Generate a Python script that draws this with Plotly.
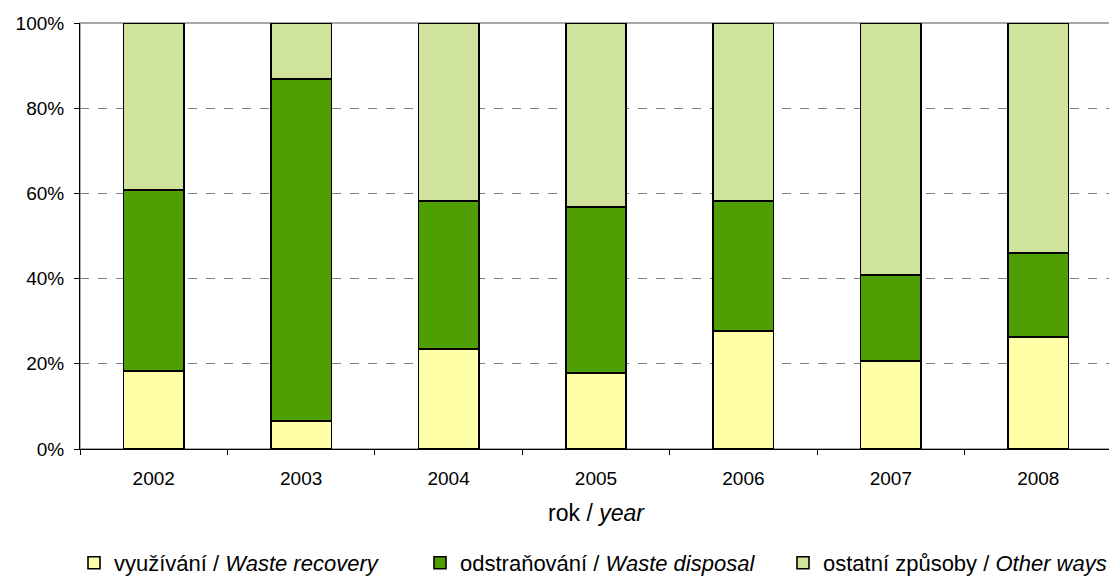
import plotly.graph_objects as go

years = ["2002", "2003", "2004", "2005", "2006", "2007", "2008"]
recovery = [18.3, 6.6, 23.5, 17.8, 27.7, 20.7, 26.3]
disposal = [42.5, 80.3, 34.7, 39.0, 30.5, 20.1, 19.7]
other = [39.2, 13.1, 41.8, 43.2, 41.8, 59.2, 54.0]

names = [
    "využívání / <i>Waste recovery</i>",
    "odstraňování / <i>Waste disposal</i>",
    "ostatní způsoby / <i>Other ways</i>",
]
colors = ["#FFFFA8", "#4E9E04", "#D0E39C"]
legend_ids = ["legend", "legend2", "legend3"]
legend_x = [66, 412, 775]  # left edge of each legend box, px

fig = go.Figure()
for vals, name, col, lg in zip([recovery, disposal, other], names, colors, legend_ids):
    fig.add_trace(go.Bar(
        x=years, y=vals, name=name, legend=lg,
        marker=dict(color=col, line=dict(color="black", width=1.6)),
    ))

# plot area border (grey, top and right)
fig.add_shape(type="rect", xref="paper", yref="paper", x0=0, x1=1, y0=0, y1=1,
              line=dict(color="#8C8C8C", width=1.5), layer="between")

# page body has an 8px margin, so the figure is a bit smaller than the window
W, H = 1109, 569
LEG_TOP = 534  # px from top of figure
legend_common = dict(xref="container", yref="container", orientation="h",
                     xanchor="left", yanchor="top", y=1 - LEG_TOP / H,
                     bgcolor="rgba(0,0,0,0)", font=dict(size=22), itemclick=False)

fig.update_layout(
    width=W, height=H,
    barmode="stack", barnorm="percent", bargap=0.59,
    plot_bgcolor="white", paper_bgcolor="white",
    margin=dict(l=72, r=5, t=15, b=128),
    font=dict(family="Liberation Sans, Arial", size=19, color="black"),
    showlegend=True,
    legend=dict(x=legend_x[0] / W, **legend_common),
    legend2=dict(x=legend_x[1] / W, **legend_common),
    legend3=dict(x=legend_x[2] / W, **legend_common),
)
fig.update_xaxes(
    title=dict(text="rok / <i>year</i>", standoff=17),
    showline=True, linecolor="black", linewidth=1,
    ticks="outside", tickson="boundaries", ticklen=5, tickcolor="black",
    ticklabelstandoff=12, showgrid=False, automargin=False,
)
fig.update_yaxes(
    range=[0, 100], tickvals=[0, 20, 40, 60, 80, 100],
    ticktext=["0%", "20%", "40%", "60%", "80%", "100%"],
    showline=True, linecolor="black", linewidth=1,
    ticks="outside", ticklen=5, tickcolor="black", ticklabelstandoff=6,
    showgrid=True, gridcolor="#808080", griddash="dash", gridwidth=1,
    zeroline=False, automargin=False,
)

fig.write_html("out.html")
